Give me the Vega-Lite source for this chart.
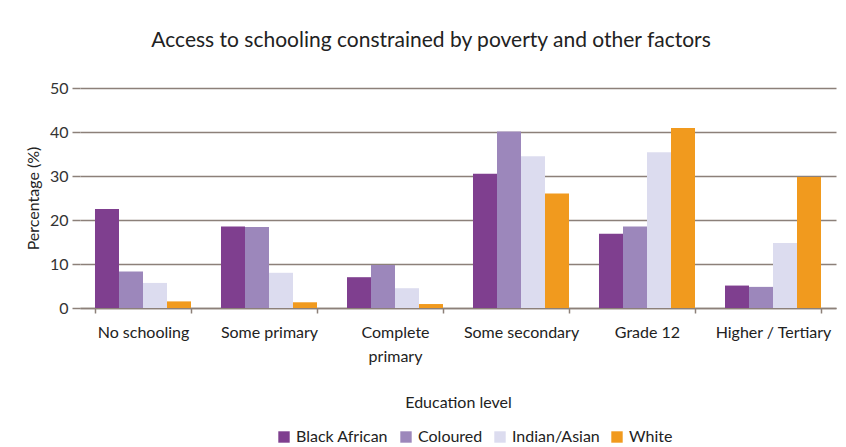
{
  "$schema": "https://vega.github.io/schema/vega-lite/v6.json",
  "width": 756,
  "height": 220,
  "autosize": "none",
  "padding": {"left": 80, "top": 88, "right": 10, "bottom": 139},
  "background": "white",
  "title": {
    "text": "Access to schooling constrained by poverty and other factors",
    "font": "Lato",
    "fontSize": 21,
    "fontWeight": "normal",
    "color": "#222222",
    "anchor": "middle",
    "dx": -27,
    "offset": 29
  },
  "config": {
    "view": {"stroke": null},
    "font": "Lato"
  },
  "data": {
    "values": [
      {"level": "No schooling", "group": "Black African", "pct": 22.5},
      {"level": "No schooling", "group": "Coloured", "pct": 8.3},
      {"level": "No schooling", "group": "Indian/Asian", "pct": 5.7},
      {"level": "No schooling", "group": "White", "pct": 1.5},
      {"level": "Some primary", "group": "Black African", "pct": 18.5},
      {"level": "Some primary", "group": "Coloured", "pct": 18.4},
      {"level": "Some primary", "group": "Indian/Asian", "pct": 8.0},
      {"level": "Some primary", "group": "White", "pct": 1.3},
      {"level": "Complete primary", "group": "Black African", "pct": 7.0},
      {"level": "Complete primary", "group": "Coloured", "pct": 9.8},
      {"level": "Complete primary", "group": "Indian/Asian", "pct": 4.5},
      {"level": "Complete primary", "group": "White", "pct": 0.9},
      {"level": "Some secondary", "group": "Black African", "pct": 30.5},
      {"level": "Some secondary", "group": "Coloured", "pct": 40.1},
      {"level": "Some secondary", "group": "Indian/Asian", "pct": 34.5},
      {"level": "Some secondary", "group": "White", "pct": 26.0},
      {"level": "Grade 12", "group": "Black African", "pct": 16.9},
      {"level": "Grade 12", "group": "Coloured", "pct": 18.5},
      {"level": "Grade 12", "group": "Indian/Asian", "pct": 35.4},
      {"level": "Grade 12", "group": "White", "pct": 40.9},
      {"level": "Higher / Tertiary", "group": "Black African", "pct": 5.1},
      {"level": "Higher / Tertiary", "group": "Coloured", "pct": 4.8},
      {"level": "Higher / Tertiary", "group": "Indian/Asian", "pct": 14.8},
      {"level": "Higher / Tertiary", "group": "White", "pct": 29.8}
    ]
  },
  "mark": {"type": "bar"},
  "encoding": {
    "x": {
      "field": "level",
      "type": "nominal",
      "sort": ["No schooling", "Some primary", "Complete primary", "Some secondary", "Grade 12", "Higher / Tertiary"],
      "scale": {"paddingInner": 0.238, "paddingOuter": 0.119},
      "axis": {
        "title": "Education level",
        "titleFont": "Lato",
        "titleFontSize": 16,
        "titleFontWeight": "normal",
        "titleColor": "#222222",
        "titlePadding": 30,
        "labelAngle": 0,
        "labelFont": "Lato",
        "labelFontSize": 16,
        "labelColor": "#222222",
        "labelPadding": 11,
        "labelExpr": "datum.label == 'Complete primary' ? ['Complete', 'primary'] : datum.label",
        "labelLineHeight": 24,
        "tickBand": "extent",
        "tickSize": 5,
        "tickColor": "#8c8079",
        "tickWidth": 1.5,
        "domainColor": "#8c8079",
        "domainWidth": 1.5
      }
    },
    "xOffset": {
      "field": "group",
      "type": "nominal",
      "sort": ["Black African", "Coloured", "Indian/Asian", "White"],
      "scale": {"paddingInner": 0, "paddingOuter": 0}
    },
    "y": {
      "field": "pct",
      "type": "quantitative",
      "scale": {"domain": [0, 50]},
      "axis": {
        "title": "Percentage (%)",
        "titleFont": "Lato",
        "titleFontSize": 16,
        "titleFontWeight": "normal",
        "titleColor": "#222222",
        "titlePadding": 8,
        "values": [0, 10, 20, 30, 40, 50],
        "labelFont": "Lato",
        "labelFontSize": 16,
        "labelColor": "#333333",
        "labelPadding": 4,
        "tickSize": 8,
        "tickColor": "#8c8079",
        "tickWidth": 1.5,
        "domain": false,
        "gridColor": "#8c8079",
        "gridWidth": 1.5
      }
    },
    "color": {
      "field": "group",
      "type": "nominal",
      "sort": ["Black African", "Coloured", "Indian/Asian", "White"],
      "scale": {
        "domain": ["Black African", "Coloured", "Indian/Asian", "White"],
        "range": ["#7f3f8f", "#9c87bb", "#dcdcef", "#f19a1e"]
      },
      "legend": {
        "title": null,
        "orient": "none",
        "direction": "horizontal",
        "legendX": 196,
        "legendY": 341,
        "symbolType": "square",
        "symbolSize": 130,
        "symbolOpacity": 1,
        "labelFont": "Lato",
        "labelFontSize": 16,
        "labelColor": "#222222",
        "columnPadding": 9,
        "labelOffset": 4
      }
    }
  }
}
